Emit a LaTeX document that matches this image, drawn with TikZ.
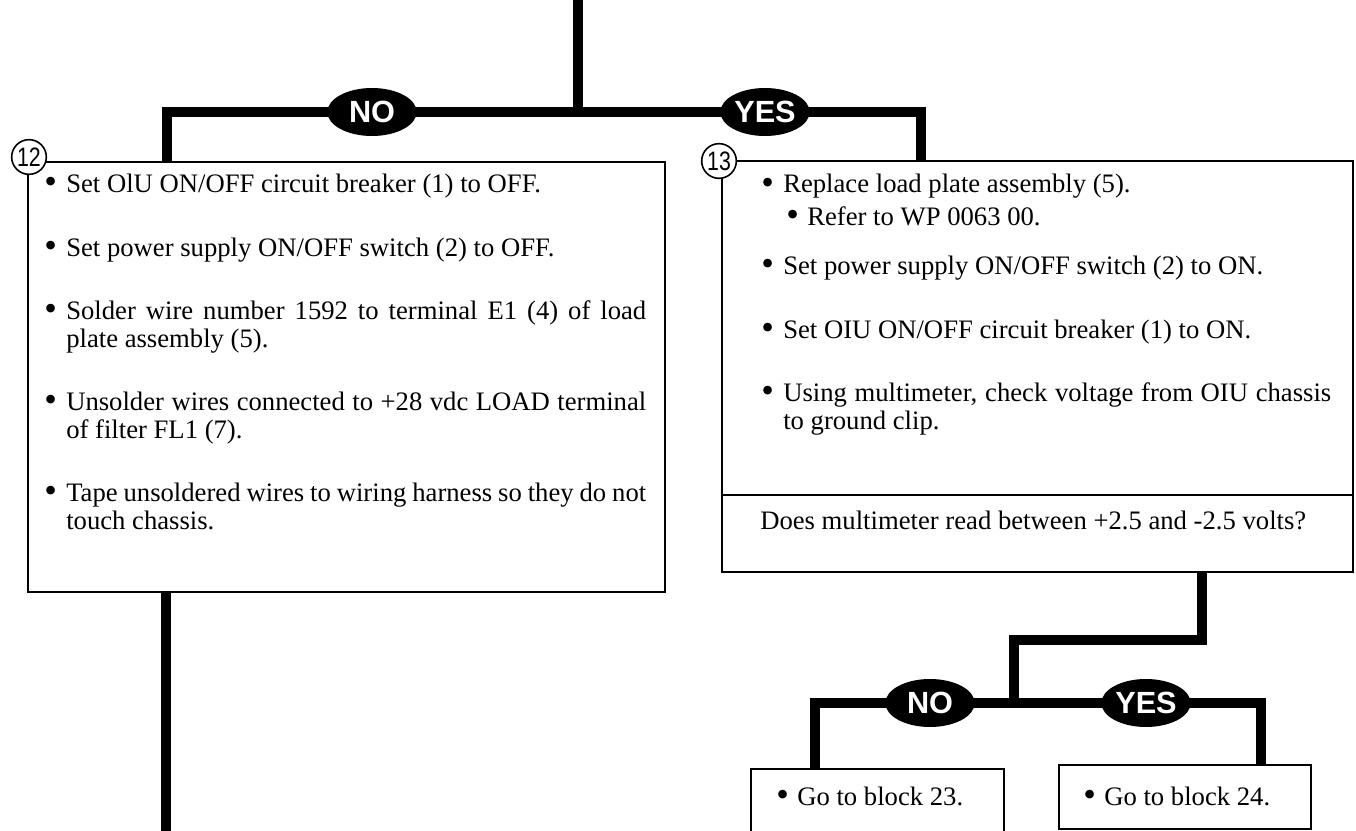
\documentclass[tikz,border=0pt]{standalone}
\usepackage{fontspec}
\setmainfont{Liberation Serif}
\newfontfamily\labfont{Liberation Sans}
\usetikzlibrary{shapes.geometric}
\newcommand\bodyfont{\fontsize{20}{21}\selectfont\hyphenpenalty=10000\exhyphenpenalty=10000}
\newcommand\bigbul{\raisebox{-0.06em}[0.45em][0pt]{\scalebox{1.35}{\textbullet}}}
\begin{document}
\begin{tikzpicture}[x=0.75pt,y=-0.75pt,
 thickline/.style={line width=7pt, line join=miter},
 boxline/.style={draw, line width=1.4pt, inner sep=0pt, fill=white},
 oval/.style={ellipse, fill=black, text=white, inner sep=0pt, minimum width=67pt, minimum height=36pt, font=\labfont\bfseries\fontsize{23}{23}\selectfont},
 numc/.style={circle, draw, fill=white, line width=1.2pt, minimum size=26pt, inner sep=0pt, font=\labfont\fontsize{20}{20}\selectfont},
 bodytext/.style={anchor=base west, inner sep=0pt, align=justify, font=\bodyfont},
 bul/.style={anchor=base west, inner sep=0pt, font=\bodyfont},
]
\clip (0,0) rectangle (1356,831);
\fill[white] (0,0) rectangle (1356,831);

% boxes
\node[boxline, minimum width=477.75pt, minimum height=322.5pt] (b12) at (346.5,377) {};
\node[boxline, minimum width=473.25pt, minimum height=308.25pt] (b13) at (1037.5,366.5) {};
\node[boxline, minimum width=189.75pt, minimum height=61.5pt] (b23) at (877.5,810) {};
\node[boxline, minimum width=189pt, minimum height=48pt] (b24) at (1185,797) {};
\coordinate (div) at (0,495);
\draw[line width=1.4pt] (b13.west |- div) -- (b13.east |- div);

% junction coordinates
\coordinate (top) at (578,0);
\coordinate (split) at (578,112);
\coordinate (j12) at (167,112);
\coordinate (j13) at (921,112);
\coordinate (end12) at (166,845);
\coordinate (d13) at (1202,640);
\coordinate (split2) at (1014,640);
\coordinate (s2) at (1014,703);
\coordinate (j23) at (815,703);
\coordinate (j24) at (1261,703);

% connectors
\draw[thickline] (top) -- (split);
\draw[thickline] (b12.north -| j12) -- (j12) -- (j13) -- (b13.north -| j13);
\draw[thickline] (b12.south -| end12) -- (end12);
\draw[thickline] (b13.south -| d13) -- (d13) -- (split2) -- (s2);
\draw[thickline] (b23.north -| j23) -- (j23) -- (j24) -- (b24.north -| j24);

% labels on connectors
\node[oval] (no1) at (372,112) {NO};
\node[oval] (yes1) at (765,112) {YES};
\node[oval] (no2) at (930,703) {NO};
\node[oval] (yes2) at (1146,703) {YES};

% number circles
\node[numc] (c12) at (29,157) {\scalebox{0.8}[1]{12}};
\node[numc] (c13) at (719,161) {\scalebox{0.8}[1]{13}};

% block 12 text
\node[bul] (p1) at (44,192) {\bigbul};
\node[bodytext, text width=435pt] (t1) at (66,192) {Set OlU ON/OFF circuit breaker (1) to OFF.};
\node[bul] (p2) at (44,256) {\bigbul};
\node[bodytext, text width=435pt] (t2) at (66,256) {Set power supply ON/OFF switch (2) to OFF.};
\node[bul] (p3) at (44,319) {\bigbul};
\node[bodytext, text width=435pt] (t3) at (66,319) {Solder wire number 1592 to terminal E1 (4) of load plate assembly (5).};
\node[bul] (p4) at (44,410) {\bigbul};
\node[bodytext, text width=435pt] (t4) at (66,410) {Unsolder wires connected to +28 vdc LOAD terminal of filter FL1 (7).};
\node[bul] (p5) at (44,501) {\bigbul};
\node[bodytext, text width=435pt] (t5) at (66,501) {Tape unsoldered wires to wiring harness so they do not touch chassis.};

% block 13 text
\node[bul] (q1) at (761,193) {\bigbul};
\node[bul] (u1) at (783,193) {Replace load plate assembly (5).};
\node[bul] (q1a) at (786,225) {\bigbul};
\node[bul] (u1a) at (807,225) {Refer to WP 0063 00.};
\node[bul] (q2) at (761,274) {\bigbul};
\node[bodytext, text width=411pt] (u2) at (783,274) {Set power supply ON/OFF switch (2) to ON.};
\node[bul] (q3) at (761,338) {\bigbul};
\node[bodytext, text width=411pt] (u3) at (783,338) {Set OIU ON/OFF circuit breaker (1) to ON.};
\node[bul] (q4) at (761,401) {\bigbul};
\node[bodytext, text width=411pt] (u4) at (783,401) {Using multimeter, check voltage from OIU chassis to ground clip.};
\node[bul] (qq) at (760,529) {Does multimeter read between +2.5 and -2.5 volts?};

% lower blocks
\node[bul] (r1) at (776,805) {\bigbul};
\node[bul] (v1) at (797,805) {Go to block 23.};
\node[bul] (r2) at (1083,805) {\bigbul};
\node[bul] (v2) at (1104,805) {Go to block 24.};
\end{tikzpicture}
\end{document}
